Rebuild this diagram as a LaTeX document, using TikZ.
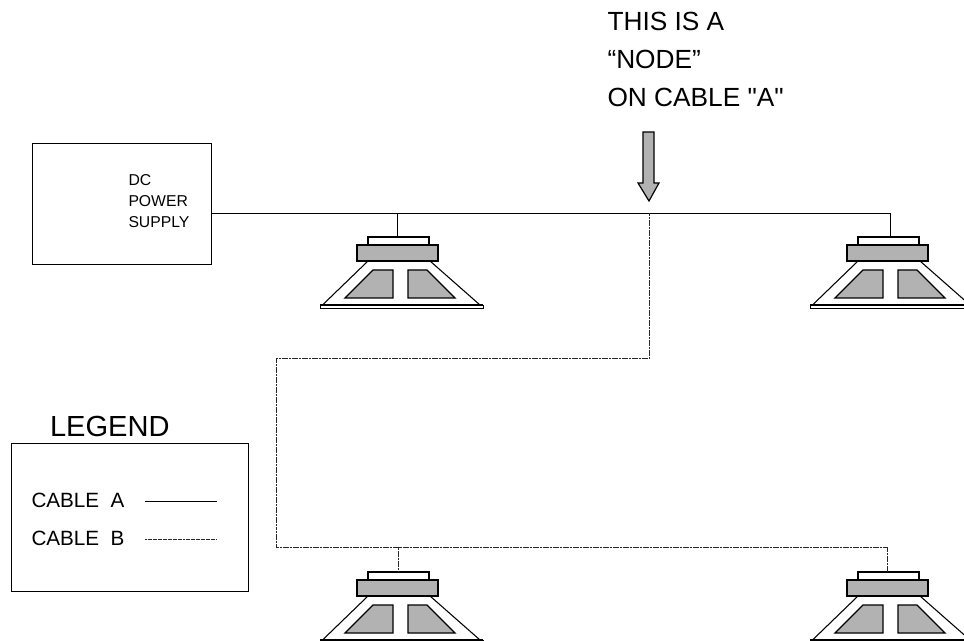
\documentclass[tikz,border=0pt]{standalone}
\usepackage{fontspec}
\setmainfont{Liberation Sans}
\newfontfamily\notefont{Liberation Sans}
\begin{document}
\begin{tikzpicture}[x=0.75pt,y=-0.75pt,line width=0.75pt,
  cableA/.style={draw=black,line width=0.75pt},
  cableB/.style={draw=black!85,line width=0.75pt,dash pattern=on 2pt off 0.5pt},
  frame/.style={draw=black,fill=white,line width=0.75pt,inner sep=0pt},
  label/.style={inner sep=0pt,align=left,anchor=north west},
  gfill/.style={draw=black,fill=spkgray,line width=1pt,line join=miter},
  speaker/.pic={
    \draw[line width=0.8pt] (-29,24) -- (-74.5,68);
    \draw[line width=0.8pt] (33,24) -- (83,68);
    \draw[line width=0.8pt,fill=white] (-29,0) rectangle (32,8);
    \draw[gfill] (-40,8) rectangle (41,24);
    \draw[gfill] (-24,33) -- (-4,33) -- (-4,61) -- (-52,61) -- cycle;
    \draw[gfill] (11,33) -- (30,33) -- (58,61) -- (11,61) -- cycle;
    \draw[line width=0.5pt,fill=white] (-77,68) rectangle (86,71);
    \draw[line width=1.1pt] (-77,68) -- (86,68);
  }]
\definecolor{spkgray}{HTML}{B2B2B2}
\useasboundingbox (0,0) rectangle (964,641);
\clip (0,0) rectangle (964,641);
\fill[white] (0,0) rectangle (964,641);

\pic at (397,237) {speaker};
\pic at (887,237) {speaker};
\pic at (397,572) {speaker};
\pic at (887,572) {speaker};
\coordinate (s1) at (397.5,237);
\coordinate (s2) at (890.5,237);
\coordinate (s3) at (398.5,572);
\coordinate (s4) at (887.5,572);

\node[frame,minimum width=134.25pt,minimum height=90.75pt] (psu) at (121.5,204.5) {};
\node[label,font=\fontsize{11.8pt}{15.8pt}\selectfont] (psutext) at (128,174) {DC\\POWER\\SUPPLY};
\node[frame,minimum width=177.75pt,minimum height=111pt] (legendbox) at (129.5,517.5) {};
\node[inner sep=0pt,anchor=base west,font=\fontsize{21.8pt}{25pt}\selectfont] (legendtitle) at (49.5,436) {LEGEND};
\node[inner sep=0pt,anchor=base west,font=\fontsize{15.5pt}{18pt}\selectfont] (ca) at (31,507) {CABLE\ \ A};
\node[inner sep=0pt,anchor=base west,font=\fontsize{15.5pt}{18pt}\selectfont] (cb) at (31,545) {CABLE\ \ B};
\coordinate (la1) at (145,501.5); \coordinate (la2) at (217,501.5);
\coordinate (lb1) at (145,539.5); \coordinate (lb2) at (217,539.5);
\draw[cableA,line width=0.6pt] (la1) -- (la2);
\draw[cableB,line width=0.6pt,dash pattern=on 1.5pt off 0.4pt] (lb1) -- (lb2);

\node[label,font=\notefont\fontsize{19.7pt}{28.5pt}\selectfont] (note) at (607,12) {THIS IS A\\“NODE”\\ON CABLE "A"};

\coordinate (nodeA) at (649.5,213.5);
\coordinate (b1) at (649.5,358.5);
\coordinate (b2) at (276.5,358.5);
\coordinate (b3) at (276.5,547.5);
\coordinate (b4) at (398.5,547.5);
\coordinate (b5) at (887.5,547.5);
\coordinate (a1) at (397.5,213.5);
\coordinate (a2) at (890.5,213.5);
\draw[cableA] (psu.east |- nodeA) -- (a1) -- (a2) -- (s2);
\draw[cableA] (a1) -- (s1);
\draw[cableB] (nodeA) -- (b1) -- (b2) -- (b3) -- (b4) -- (b5) -- (s4);
\draw[cableB] (b4) -- (s3);

\draw[draw=black,fill=spkgray,line width=0.9pt]
  (643,132) -- (654,132) -- (654,183) -- (659,183) -- (649,201) -- (638,183) -- (643,183) -- cycle;
\end{tikzpicture}
\end{document}
